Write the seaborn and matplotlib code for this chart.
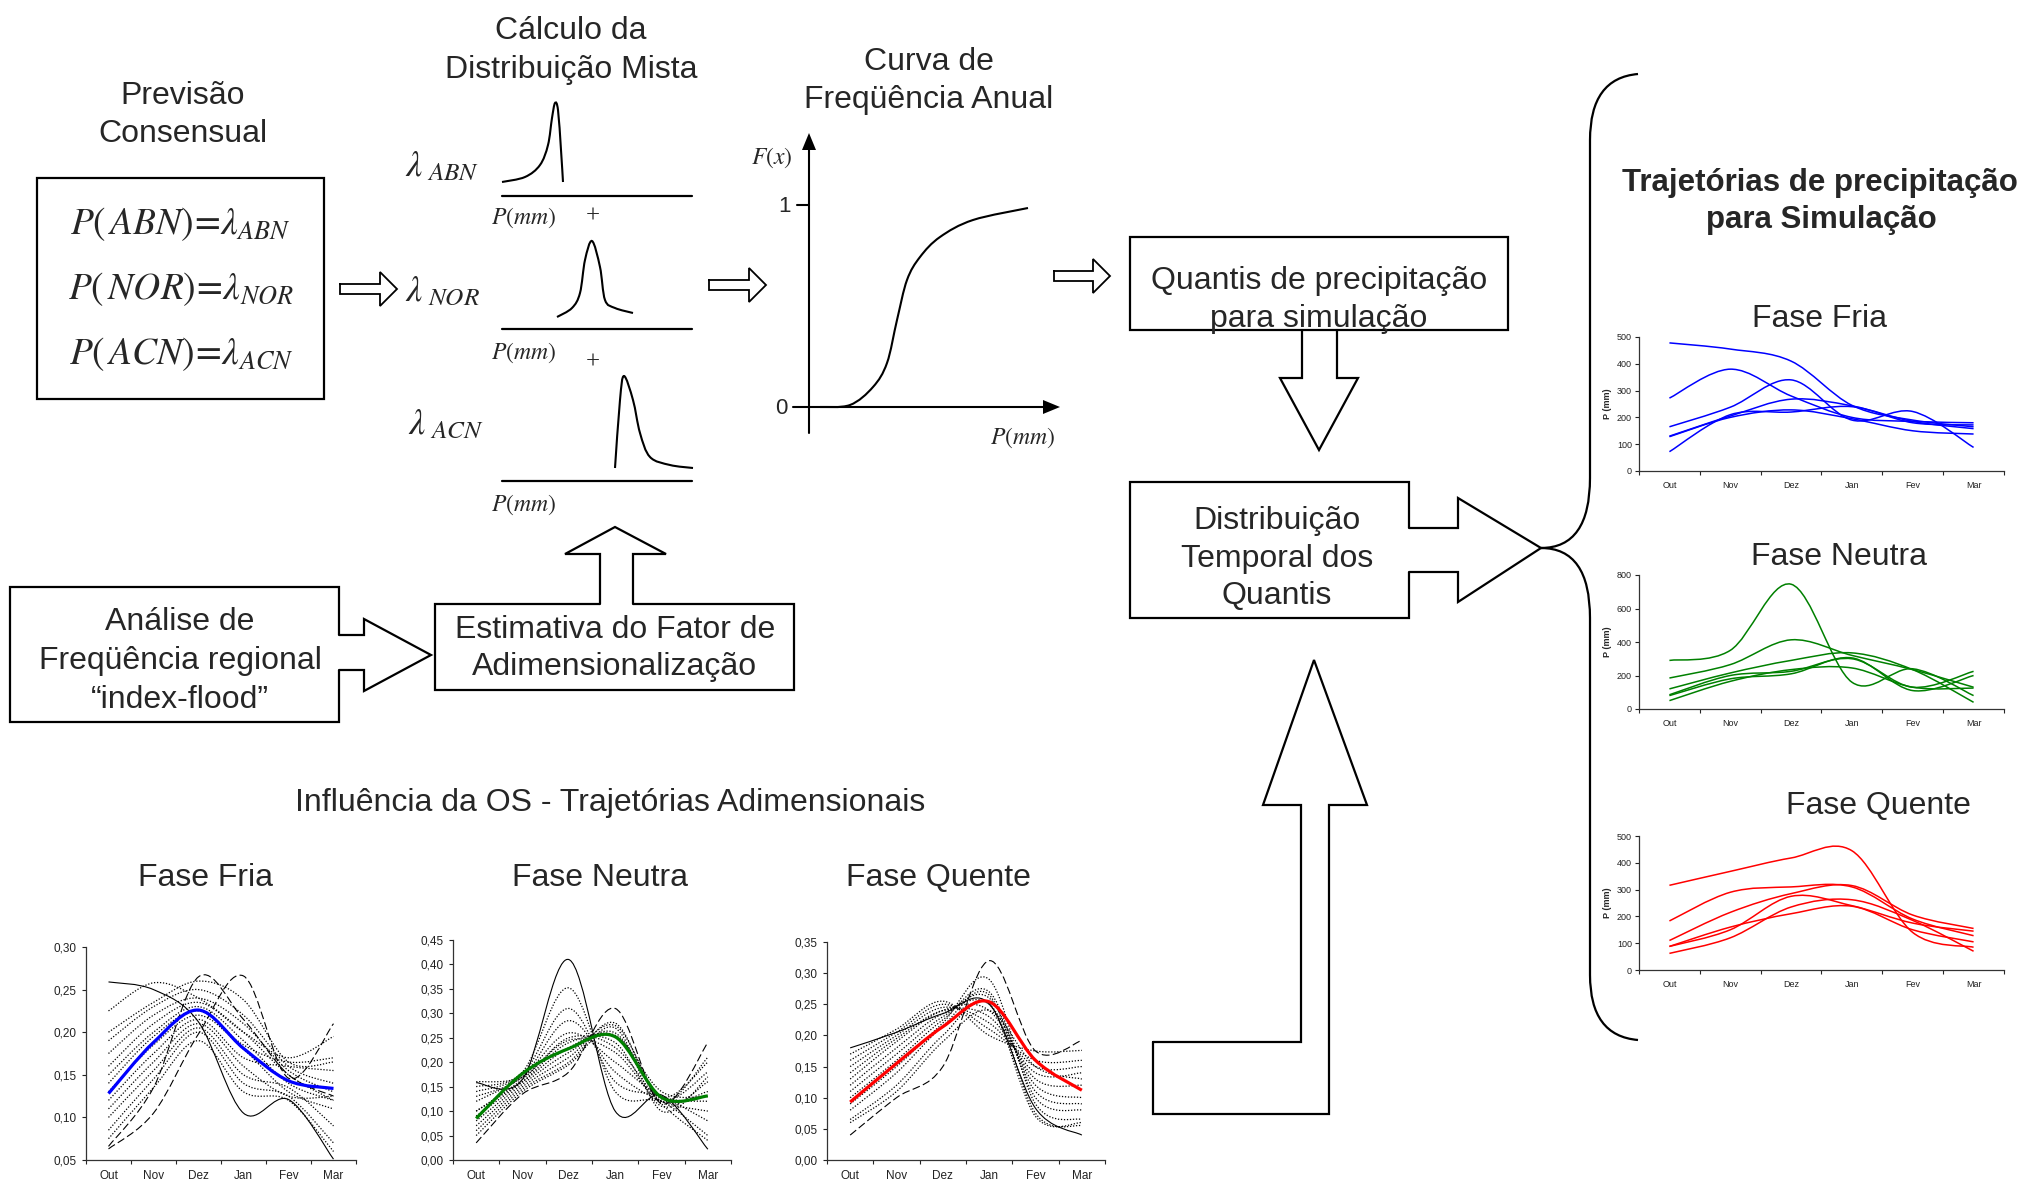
import numpy as np
import matplotlib
matplotlib.use("Agg")
import matplotlib.pyplot as plt
from matplotlib.path import Path
from matplotlib.patches import PathPatch, Polygon, Rectangle
import seaborn as sns

sns.set_style("white")
plt.rcParams['font.family'] = ['Liberation Sans', 'DejaVu Sans']
plt.rcParams['mathtext.fontset'] = 'stix'

W, H = 2031, 1184

months = ['Out', 'Nov', 'Dez', 'Jan', 'Fev', 'Mar']

# trajetorias adimensionais (fracao do total) - fase fria
fria_media = [0.128, 0.188, 0.226, 0.181, 0.143, 0.134]
fria_solida = [0.259, 0.250, 0.212, 0.105, 0.121, 0.051]
fria_tracejada = [
    [0.063, 0.105, 0.198, 0.266, 0.146, 0.210],
    [0.066, 0.135, 0.265, 0.215, 0.150, 0.125],
]
fria_pontilhada = [
    [0.225, 0.258, 0.240, 0.200, 0.150, 0.120],
    [0.200, 0.235, 0.260, 0.238, 0.165, 0.165],
    [0.190, 0.230, 0.250, 0.220, 0.160, 0.140],
    [0.175, 0.220, 0.240, 0.210, 0.155, 0.130],
    [0.160, 0.210, 0.235, 0.200, 0.170, 0.195],
    [0.150, 0.200, 0.230, 0.190, 0.140, 0.120],
    [0.140, 0.195, 0.225, 0.185, 0.165, 0.170],
    [0.130, 0.185, 0.220, 0.180, 0.130, 0.110],
    [0.120, 0.175, 0.215, 0.170, 0.160, 0.155],
    [0.110, 0.165, 0.210, 0.160, 0.125, 0.125],
    [0.100, 0.155, 0.205, 0.150, 0.135, 0.090],
    [0.085, 0.145, 0.200, 0.140, 0.125, 0.070],
    [0.075, 0.135, 0.190, 0.130, 0.120, 0.060],
]

# fase neutra
neutra_media = [0.085, 0.177, 0.228, 0.252, 0.128, 0.131]
neutra_solida = [0.158, 0.165, 0.410, 0.100, 0.133, 0.022]
neutra_tracejada = [
    [0.035, 0.135, 0.180, 0.310, 0.115, 0.240],
]
neutra_pontilhada = [
    [0.150, 0.180, 0.352, 0.140, 0.120, 0.050],
    [0.140, 0.175, 0.310, 0.160, 0.130, 0.080],
    [0.130, 0.170, 0.285, 0.180, 0.120, 0.100],
    [0.120, 0.170, 0.260, 0.200, 0.130, 0.120],
    [0.100, 0.165, 0.245, 0.220, 0.120, 0.140],
    [0.090, 0.160, 0.240, 0.240, 0.110, 0.160],
    [0.080, 0.155, 0.220, 0.260, 0.125, 0.180],
    [0.070, 0.150, 0.210, 0.275, 0.130, 0.200],
    [0.060, 0.145, 0.200, 0.280, 0.120, 0.210],
    [0.050, 0.140, 0.195, 0.270, 0.100, 0.170],
    [0.100, 0.160, 0.230, 0.255, 0.140, 0.130],
    [0.160, 0.170, 0.250, 0.230, 0.115, 0.040],
]

# fase quente
quente_media = [0.093, 0.155, 0.214, 0.254, 0.160, 0.112]
quente_solida = [0.180, 0.205, 0.235, 0.251, 0.083, 0.040]
quente_tracejada = [
    [0.040, 0.100, 0.150, 0.320, 0.175, 0.192],
]
quente_pontilhada = [
    [0.170, 0.210, 0.255, 0.200, 0.175, 0.176],
    [0.160, 0.205, 0.250, 0.210, 0.160, 0.160],
    [0.150, 0.200, 0.245, 0.220, 0.150, 0.150],
    [0.140, 0.195, 0.240, 0.230, 0.140, 0.140],
    [0.130, 0.190, 0.240, 0.240, 0.130, 0.120],
    [0.120, 0.180, 0.235, 0.250, 0.120, 0.100],
    [0.110, 0.170, 0.230, 0.260, 0.110, 0.090],
    [0.100, 0.160, 0.225, 0.270, 0.100, 0.080],
    [0.090, 0.150, 0.220, 0.290, 0.090, 0.065],
    [0.080, 0.140, 0.215, 0.265, 0.075, 0.055],
    [0.065, 0.120, 0.200, 0.250, 0.070, 0.060],
    [0.060, 0.110, 0.190, 0.240, 0.150, 0.130],
]

# trajetorias de precipitacao para simulacao (mm)
fria_mm = [
    [478, 455, 410, 245, 190, 165],
    [272, 380, 280, 200, 185, 180],
    [165, 238, 340, 190, 222, 88],
    [130, 205, 268, 243, 185, 158],
    [128, 200, 228, 195, 150, 138],
    [72, 210, 220, 240, 180, 172],
]
neutra_mm = [
    [290, 350, 745, 160, 240, 80],
    [185, 265, 413, 320, 235, 130],
    [120, 215, 290, 335, 235, 40],
    [85, 200, 225, 300, 130, 225],
    [80, 180, 210, 305, 110, 200],
    [50, 165, 235, 245, 130, 125],
]
quente_mm = [
    [316, 368, 418, 445, 140, 85],
    [183, 290, 310, 310, 190, 128],
    [110, 215, 285, 315, 205, 155],
    [88, 150, 275, 240, 175, 145],
    [88, 160, 210, 238, 150, 105],
    [62, 120, 235, 262, 185, 70],
]

# esbocos do diagrama (pixels)
pdf_abn_x = [502, 525, 540, 548, 552, 555, 558, 561, 563]
pdf_abn_y = [182, 177, 165, 145, 118, 103, 110, 150, 182]
pdf_nor_x = [557, 572, 580, 585, 592, 600, 605, 615, 633]
pdf_nor_y = [317, 308, 293, 260, 241, 267, 300, 308, 313]
pdf_acn_x = [615, 620, 624, 633, 640, 650, 670, 693]
pdf_acn_y = [468, 400, 376, 400, 433, 457, 465, 468]
cdf_x = [820, 850, 873, 887, 897, 907, 920, 940, 973, 1028]
cdf_y = [407, 405, 387, 363, 320, 280, 257, 237, 220, 208]


def smooth_path(xs, ys):
    pts = np.column_stack([xs, ys]).astype(float)
    ext = np.vstack([pts[0], pts, pts[-1]])
    verts = [pts[0]]
    codes = [Path.MOVETO]
    for i in range(len(pts) - 1):
        p0, p1, p2, p3 = ext[i], ext[i + 1], ext[i + 2], ext[i + 3]
        verts += [p1 + (p2 - p0) / 6, p2 - (p3 - p1) / 6, p2]
        codes += [Path.CURVE4] * 3
    return Path(verts, codes)


def curve(ax, xs, ys, **kw):
    ax.add_patch(PathPatch(smooth_path(xs, ys), fill=False, **kw))


def arrow(ax, pts, inset=None, lw=1.6):
    pts = np.asarray(pts, float)
    if inset is not None:
        d = np.asarray(inset, float)
        fill = np.vstack([pts[0] - d, pts, pts[-1] - d])
        line = pts
    else:
        fill = pts
        line = np.vstack([pts, pts[:1]])
    ax.add_patch(Polygon(fill, closed=True, fc='white', ec='none', zorder=3))
    ax.plot(line[:, 0], line[:, 1], color='black', lw=lw, zorder=4,
            solid_joinstyle='miter')


def small_arrow(ax, x0, x1, c):
    pts = [(x0, c - 5), (x1 - 17, c - 5), (x1 - 17, c - 17), (x1, c),
           (x1 - 17, c + 17), (x1 - 17, c + 5), (x0, c + 5)]
    arrow(ax, pts, lw=1.3)


def box(ax, x0, y0, x1, y1):
    ax.add_patch(Rectangle((x0, y0), x1 - x0, y1 - y0, fill=False,
                           ec='black', lw=1.6, zorder=2))


fig = plt.figure(figsize=(W / 100, H / 100), dpi=100)
ax0 = fig.add_axes([0, 0, 1, 1])
ax0.set_xlim(0, W)
ax0.set_ylim(H, 0)
ax0.axis('off')

T = dict(ha='center', va='center', fontsize=23)
dy = 4


def label(x, y, s, **kw):
    opts = dict(T)
    opts.update(kw)
    ax0.text(x, y + dy, s, **opts)


# Previsao consensual
label(183, 92, 'Previsão')
label(183, 130, 'Consensual')
box(ax0, 37, 178, 324, 399)
ax0.text(181, 224, r'$P(\,ABN)\!=\!\lambda_{ABN}$', ha='center', va='center', fontsize=27)
ax0.text(181, 289, r'$P(\,NOR)\!=\!\lambda_{NOR}$', ha='center', va='center', fontsize=27)
ax0.text(181, 354, r'$P(\,ACN)\!=\!\lambda_{ACN}$', ha='center', va='center', fontsize=27)
small_arrow(ax0, 340, 397, 289)

# distribuicao mista
label(571, 27, 'Cálculo da')
label(571, 66, 'Distribuição Mista')
ax0.text(405, 167, r'$\lambda_{\ ABN}$', ha='left', va='center', fontsize=26)
ax0.text(405, 292, r'$\lambda_{\ NOR}$', ha='left', va='center', fontsize=26)
ax0.text(408, 425, r'$\lambda_{\ ACN}$', ha='left', va='center', fontsize=26)
for yl, yp in [(196, 218), (329, 353), (481, 505)]:
    ax0.plot([502, 692], [yl, yl], color='black', lw=1.6)
    ax0.text(524, yp, r'$P(mm)$', ha='center', va='center', fontsize=17)
ax0.text(593, 217, '+', ha='center', va='center', fontsize=18, family='Liberation Serif')
ax0.text(593, 363, '+', ha='center', va='center', fontsize=18, family='Liberation Serif')
curve(ax0, pdf_abn_x, pdf_abn_y, ec='black', lw=1.5)
curve(ax0, pdf_nor_x, pdf_nor_y, ec='black', lw=1.5)
curve(ax0, pdf_acn_x, pdf_acn_y, ec='black', lw=1.5)
small_arrow(ax0, 709, 766, 285)

# curva de frequencia anual
label(929, 58, 'Curva de')
label(929, 96, 'Freqüência Anual')
ax0.plot([809, 809], [433, 148], color='black', lw=1.5)
ax0.add_patch(Polygon([(802, 150), (816, 150), (809, 133)], fc='black', ec='none'))
ax0.plot([793, 1045], [407, 407], color='black', lw=1.5)
ax0.add_patch(Polygon([(1043, 400), (1043, 414), (1060, 407)], fc='black', ec='none'))
ax0.plot([797, 809], [205, 205], color='black', lw=1.5)
ax0.text(785, 206, '1', ha='center', va='center', fontsize=16)
ax0.text(781, 408, '0', ha='center', va='center', fontsize=16)
ax0.text(772, 158, r'$F(x)$', ha='center', va='center', fontsize=17)
ax0.text(1023, 438, r'$P(mm)$', ha='center', va='center', fontsize=17)
curve(ax0, cdf_x, cdf_y, ec='black', lw=1.5)
small_arrow(ax0, 1054, 1110, 276)

# quantis
box(ax0, 1130, 237, 1508, 330)
label(1319, 277, 'Quantis de precipitação')
arrow(ax0, [(1302, 330), (1302, 378), (1280, 378), (1319, 450), (1358, 378),
            (1337, 378), (1337, 330)], inset=(0, -3))
label(1319, 315, 'para simulação', zorder=5)

box(ax0, 1130, 482, 1409, 618)
label(1277, 517, 'Distribuição')
label(1277, 555, 'Temporal dos')
label(1277, 592, 'Quantis')
arrow(ax0, [(1409, 528), (1458, 528), (1458, 498), (1541, 548), (1458, 602),
            (1458, 572), (1409, 572)], inset=(3, 0))

# chave
brace = Path([(1638, 74), (1590, 78), (1590, 140), (1590, 478), (1590, 548), (1541, 548),
              (1590, 548), (1590, 618), (1590, 975), (1590, 1036), (1638, 1040)],
             [Path.MOVETO, Path.CURVE3, Path.CURVE3, Path.LINETO, Path.CURVE3, Path.CURVE3,
              Path.CURVE3, Path.CURVE3, Path.LINETO, Path.CURVE3, Path.CURVE3])
ax0.add_patch(PathPatch(brace, fill=False, ec='black', lw=1.6))

# index-flood
box(ax0, 10, 587, 339, 722)
label(180, 618, 'Análise de')
label(180, 657, 'Freqüência regional')
label(180, 696, '“index-flood”')
arrow(ax0, [(339, 635), (364, 635), (364, 619), (431, 655), (364, 691),
            (364, 670), (339, 670)], inset=(3, 0))
box(ax0, 435, 604, 794, 690)
label(615, 626, 'Estimativa do Fator de')
label(615, 663, 'Adimensionalização')
arrow(ax0, [(600, 604), (600, 554), (565, 554), (615, 527), (666, 554),
            (633, 554), (633, 604)], inset=(0, -3))

# seta grande
arrow(ax0, [(1153, 1042), (1301, 1042), (1301, 805), (1263, 805), (1314, 660),
            (1367, 805), (1329, 805), (1329, 1114), (1153, 1114)])

label(610, 799, 'Influência da OS - Trajetórias Adimensionais')
label(205, 874, 'Fase Fria')
label(600, 874, 'Fase Neutra')
label(938, 874, 'Fase Quente')

label(1820, 179, 'Trajetórias de precipitação', fontsize=22.5, fontweight='bold')
label(1821, 216, 'para Simulação', fontsize=22.5, fontweight='bold')
label(1819, 315, 'Fase Fria')
label(1839, 553, 'Fase Neutra')
label(1878, 802, 'Fase Quente')


def chart(L, T_, R, B, ylim, yticks, ylabels, fs, xpad, ypad):
    ax = fig.add_axes([L / W, 1 - B / H, (R - L) / W, (B - T_) / H])
    ax.patch.set_alpha(0)
    ax.set_xlim(-0.5, 5.5)
    ax.set_ylim(*ylim)
    ax.set_xticks(np.arange(-0.5, 6, 1))
    ax.set_xticklabels([])
    ax.set_xticks(range(6), minor=True)
    ax.set_xticklabels(months, minor=True)
    ax.tick_params(axis='x', which='major', length=3, width=0.8, direction='out', bottom=True)
    ax.tick_params(axis='x', which='minor', length=0, labelsize=fs, pad=xpad, colors='#222222')
    ax.set_yticks(yticks)
    ax.set_yticklabels(ylabels)
    ax.tick_params(axis='y', length=3, width=0.8, direction='out', left=True,
                   labelsize=fs, pad=ypad, colors='#222222')
    sns.despine(ax=ax)
    for s in ['left', 'bottom']:
        ax.spines[s].set_color('#333333')
        ax.spines[s].set_linewidth(0.9)
    ax.grid(False)
    return ax


x = np.arange(6)


def adim_chart(L, T_, R, B, ylim, yvals, media, solida, tracejada, pontilhada, cor):
    labels = [f'{v:.2f}'.replace('.', ',') for v in yvals]
    ax = chart(L, T_, R, B, ylim, yvals, labels, 8.5, 7, 3.5)
    for s in pontilhada:
        curve(ax, x, s, ec='black', lw=0.9, ls=(0, (1, 1.4)))
    for s in tracejada:
        curve(ax, x, s, ec='black', lw=0.8, ls=(0, (7, 3)))
    curve(ax, x, solida, ec='black', lw=0.8)
    curve(ax, x, media, ec=cor, lw=2.3)


adim_chart(86, 947, 356, 1160, (0.05, 0.30), np.arange(0.05, 0.301, 0.05),
           fria_media, fria_solida, fria_tracejada, fria_pontilhada, '#0000ff')
adim_chart(453, 940, 731, 1160, (0, 0.45), np.arange(0, 0.451, 0.05),
           neutra_media, neutra_solida, neutra_tracejada, neutra_pontilhada, '#008000')
adim_chart(827, 942, 1105, 1160, (0, 0.35), np.arange(0, 0.351, 0.05),
           quente_media, quente_solida, quente_tracejada, quente_pontilhada, '#ff0000')


def mm_chart(T_, B, ymax, step, series, cor):
    yv = np.arange(0, ymax + 1, step)
    ax = chart(1639, T_, 2004, B, (0, ymax), yv, [str(v) for v in yv], 6.5, 7, 2)
    for s in series:
        curve(ax, x, s, ec=cor, lw=1.1)
    ax0.text(1607, (T_ + B) / 2, 'P (mm)', rotation=90, ha='center', va='center',
             fontsize=6.5, fontweight='bold')


mm_chart(337, 471, 500, 100, fria_mm, '#0000ff')
mm_chart(575, 709, 800, 200, neutra_mm, '#008000')
mm_chart(836, 970, 500, 100, quente_mm, '#ff0000')

fig.savefig('out.png', dpi=100)
